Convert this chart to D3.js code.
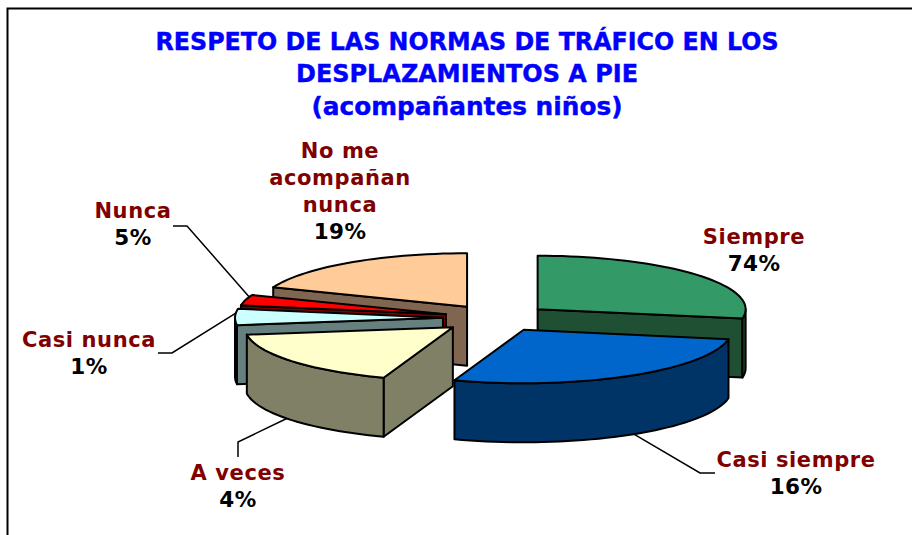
<!DOCTYPE html>
<meta charset="utf-8">
<style>
body { margin: 0; background: #fff; }
text { font-family: "DejaVu Sans"; font-weight: bold; }
.title { fill: #0000ff; stroke: #0000ff; stroke-width: 0.4; font-size: 24px; }
.name { fill: #800000; font-size: 21px; letter-spacing: 0.6px; }
.pct { fill: #000; font-size: 21.5px; letter-spacing: 0.4px; }
</style>
<body>
<script src="https://cdn.jsdelivr.net/npm/d3@7"></script>
<script>

var width = 912, height = 535;

// printed labels don't add up to 100, the drawn wedges are read off the picture
var categories = ["Siempre", "Casi siempre", "A veces", "Casi nunca", "Nunca", "No me acompañan nunca"];
var labelValues = [74, 16, 4, 1, 5, 19];
var sliceShares = [27.8, 27.6, 17.4, 4.9, 3.2, 19.1];
var topColors = ["#339966", "#0066cc", "#ffffcc", "#ccffff", "#ff0000", "#ffcc99"];
var sideColors = ["#1f5033", "#003366", "#808066", "#668080", "#800000", "#806650"];
var titleLines = ["RESPETO DE LAS NORMAS DE TRÁFICO EN LOS", "DESPLAZAMIENTOS A PIE", "(acompañantes niños)"];
var titleWidths = [623, 342, 311];
var titleY = [50, 82, 115];

var cx = 497, cy = 318, rx = 208, ry = 53.5, depth = 59;
var explode = [53, 53, 57, 54, 53, 53];
var tilt = ry / rx;

var svg = d3.select("body").append("svg")
    .attr("width", width)
    .attr("height", height);

// frame, left and top only
svg.append("path")
    .attr("d", "M7.5,535V8.5H912")
    .attr("fill", "none")
    .attr("stroke", "#000")
    .attr("stroke-width", 2);

svg.selectAll(".title")
    .data(titleLines)
  .enter().append("text")
    .attr("class", "title")
    .attr("x", 467)
    .attr("y", function(d, i) { return titleY[i]; })
    .attr("text-anchor", "middle")
    .attr("textLength", function(d, i) { return titleWidths[i]; })
    .attr("lengthAdjust", "spacingAndGlyphs")
    .text(function(d) { return d; });

var pie = d3.pie().sort(null)(sliceShares);

var line = d3.line();

function project(s, a, r, drop) {
  var mid = (s.startAngle + s.endAngle) / 2;
  var e = explode[s.index];
  var ox = cx + e * Math.sin(mid),
      oy = cy - e * tilt * Math.cos(mid);
  return [ox + r * Math.sin(a), oy - r * tilt * Math.cos(a) + drop];
}

function rimAngles(a0, a1) {
  var n = Math.max(2, Math.ceil((a1 - a0) / 0.04));
  return d3.range(n + 1).map(function(i) { return a0 + (a1 - a0) * i / n; });
}

function cutFace(s, a) {
  return line([project(s, a, 0, 0), project(s, a, rx, 0), project(s, a, rx, depth), project(s, a, 0, depth)]) + "Z";
}

// back to front
var order = [5, 4, 3, 2, 0, 1];

var slices = svg.selectAll(".slice")
    .data(order.map(function(i) { return pie[i]; }))
  .enter().append("g")
    .attr("class", "slice")
    .attr("stroke", "#000")
    .attr("stroke-width", 2)
    .attr("stroke-linejoin", "round");

slices.each(function(s) {
  var g = d3.select(this);
  var side = sideColors[s.index], top = topColors[s.index];

  if (Math.sin(s.startAngle) < 0)
    g.append("path").attr("d", cutFace(s, s.startAngle)).attr("fill", side);
  if (Math.sin(s.endAngle) > 0)
    g.append("path").attr("d", cutFace(s, s.endAngle)).attr("fill", side);

  // outer wall, only the part turned to the viewer
  var a0 = Math.max(s.startAngle, Math.PI / 2),
      a1 = Math.min(s.endAngle, 3 * Math.PI / 2);
  if (a1 > a0) {
    var upper = rimAngles(a0, a1).map(function(a) { return project(s, a, rx, 0); });
    var lower = rimAngles(a0, a1).reverse().map(function(a) { return project(s, a, rx, depth); });
    g.append("path").attr("d", line(upper.concat(lower)) + "Z").attr("fill", side);
  }

  var face = [project(s, s.startAngle, 0, 0)].concat(
    rimAngles(s.startAngle, s.endAngle).map(function(a) { return project(s, a, rx, 0); }));
  g.append("path").attr("d", line(face) + "Z").attr("fill", top);
});

// label placement: centre and first baseline of each block, then the leader's tail and knee
var labelX = [754, 796, 238, 89, 133, 340];
var labelY = [244, 467, 480, 347, 218, 158];
var nameLines = [["Siempre"], ["Casi siempre"], ["A veces"], ["Casi nunca"], ["Nunca"], ["No me", "acompañan", "nunca"]];
var leaderAngle = [null, 148, 233, 275, 289, null];
var leaderDrop = [null, depth, depth, 0, 0, null];
var leaderKnee = [null, [700, 473], [238, 442], [172, 353], [187, 226], null];
var leaderTail = [null, [715, 473], [238, 457], [158, 353], [173, 226], null];

pie.forEach(function(s, i) {
  if (leaderKnee[i]) {
    var a = leaderAngle[i] * Math.PI / 180;
    svg.append("path")
        .attr("d", line([leaderTail[i], leaderKnee[i], project(s, a, rx, leaderDrop[i])]))
        .attr("fill", "none")
        .attr("stroke", "#000")
        .attr("stroke-width", 1.5);
  }
  var y = labelY[i];
  nameLines[i].forEach(function(t, j) {
    svg.append("text").attr("class", "name").attr("x", labelX[i]).attr("y", y + j * 27)
        .attr("text-anchor", "middle").text(t);
  });
  svg.append("text").attr("class", "pct").attr("x", labelX[i]).attr("y", y + nameLines[i].length * 27)
      .attr("text-anchor", "middle").text(labelValues[i] + "%");
});

</script>
</body>
